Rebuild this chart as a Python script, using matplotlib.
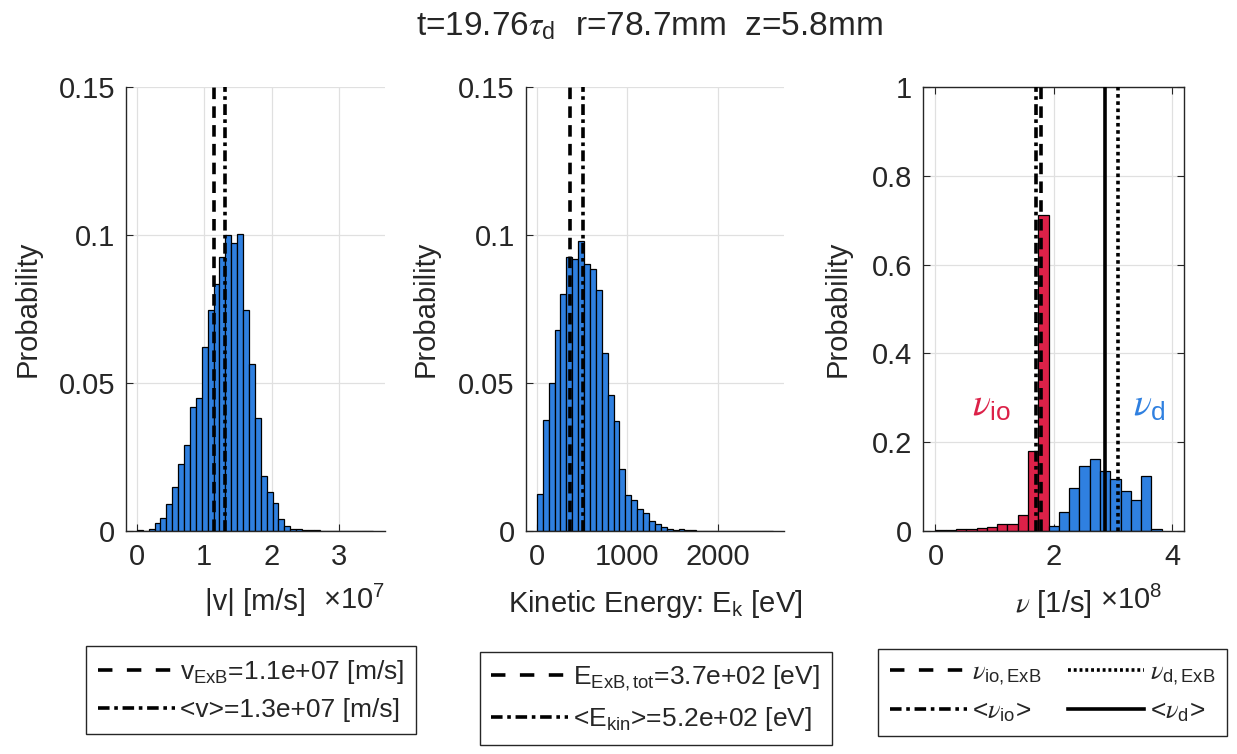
import numpy as np
import matplotlib
matplotlib.use("Agg")
import matplotlib.pyplot as plt
from matplotlib.lines import Line2D
from matplotlib.ticker import FuncFormatter

plt.rcParams["font.family"] = ["Liberation Sans", "DejaVu Sans"]
plt.rcParams["mathtext.fontset"] = "custom"
plt.rcParams["mathtext.rm"] = "Liberation Sans"
plt.rcParams["mathtext.it"] = "STIXGeneral:italic"
plt.rcParams["mathtext.bf"] = "Liberation Sans:bold"

# ---- data ----
# speed histogram |v| (m/s), 40 bins starting at 0
v_start, v_width = 0.0, 0.0875e7
v_prob = [0.0002, 0.0, 0.0008, 0.0028, 0.0045, 0.009, 0.0147, 0.0225, 0.029, 0.042,
          0.045, 0.062, 0.0747, 0.0834, 0.0927, 0.100, 0.0972, 0.1003, 0.0747, 0.0565,
          0.038, 0.0184, 0.0133, 0.0093, 0.0042, 0.0017, 0.0008, 0.0005, 0.0003, 0.0002,
          0.0002, 0.0001, 0.0001, 0.0001, 0.0001, 0.0001, 0.0, 0.0001, 0.0001, 0.0001]
v_exb, v_mean = 1.14e7, 1.30e7

# kinetic energy histogram (eV)
e_start, e_width = 0.0, 65.2
e_prob = [0.0126, 0.0374, 0.050, 0.068, 0.0802, 0.0927, 0.092, 0.0979, 0.0902, 0.0886,
          0.0815, 0.060, 0.046, 0.0372, 0.0211, 0.012, 0.0106, 0.0073, 0.0061, 0.0034,
          0.0023, 0.0014, 0.0007, 0.0003, 0.0005, 0.0002, 0.0002, 0.0001, 0.0001, 0.0001,
          0.0001, 0.0001, 0.0001, 0.0001, 0.0, 0.0001, 0.0001, 0.0, 0.0001, 0.0001]
e_exb, e_mean = 368, 512

# collision frequencies (1/s)
nu_width = 0.1737e8
nu_io_start = 0.0
nu_io_prob = [0.003, 0.002, 0.004, 0.005, 0.0075, 0.01, 0.0165, 0.016, 0.036, 0.181, 0.711]
nu_d_start = 11 * nu_width
nu_d_prob = [0.012, 0.043, 0.096, 0.146, 0.161, 0.135, 0.116, 0.089, 0.069, 0.123, 0.005]
nu_io_exb, nu_io_mean = 1.78e8, 1.70e8
nu_d_exb, nu_d_mean = 3.08e8, 2.87e8

BLUE = "#2f80e0"
RED = "#dc2148"
DARK = "#262626"
FS = 21


def edges(start, width, n):
    return start + width * np.arange(n + 1)


def hist_bars(ax, start, width, prob, color):
    e = edges(start, width, len(prob))
    ax.bar(e[:-1], prob, width=np.diff(e), align="edge", color=color,
           edgecolor="black", linewidth=0.9, zorder=2)


def style_axes(ax, label_x, box=False):
    ax.grid(True, color="#e0e0e0", linewidth=0.9, zorder=0)
    ax.set_axisbelow(True)
    for s in ("top", "right"):
        ax.spines[s].set_visible(box)
    for s in ax.spines.values():
        s.set_color(DARK)
        s.set_linewidth(1.0)
    ax.tick_params(direction="in", length=5, labelsize=FS, colors=DARK,
                   top=box, right=box)
    ax.tick_params(axis="x", pad=9)
    ax.tick_params(axis="y", pad=8)
    ax.set_ylabel("Probability", fontsize=FS, color=DARK)
    ax.yaxis.set_label_coords(label_x, 0.5)


dash = (0, (3.2, 2.0))
dashdot = (0, (3.0, 1.2, 1.0, 1.2))
dot = (0, (1.0, 1.0))
LW = 2.6

fig = plt.figure(figsize=(12.37, 7.54), dpi=100)

# panel 1: speed
ax1 = fig.add_axes([0.1019, 0.2958, 0.2094, 0.5889])
hist_bars(ax1, v_start, v_width, v_prob, BLUE)
ax1.axvline(v_exb, color="black", linestyle=dash, linewidth=LW, zorder=3)
ax1.axvline(v_mean, color="black", linestyle=dashdot, linewidth=LW, zorder=3)
ax1.set_xlim(-0.16e7, 3.68e7)
ax1.set_ylim(0, 0.15)
ax1.set_xticks([0, 1e7, 2e7, 3e7])
ax1.xaxis.set_major_formatter(FuncFormatter(lambda x, _: f"{x / 1e7:g}"))
ax1.set_yticks([0, 0.05, 0.1, 0.15])
ax1.set_yticklabels(["0", "0.05", "0.1", "0.15"])
style_axes(ax1, -0.325)
ax1.set_xlabel("|v| [m/s]", fontsize=FS, color=DARK, labelpad=12)
ax1.text(1.0, -0.158, r"$\times$10$^{7}$", transform=ax1.transAxes, ha="right",
         va="center", fontsize=FS, color=DARK)

# panel 2: kinetic energy
ax2 = fig.add_axes([0.4252, 0.2958, 0.2086, 0.5889])
hist_bars(ax2, e_start, e_width, e_prob, BLUE)
ax2.axvline(e_exb, color="black", linestyle=dash, linewidth=LW, zorder=3)
ax2.axvline(e_mean, color="black", linestyle=dashdot, linewidth=LW, zorder=3)
ax2.set_xlim(-120, 2730)
ax2.set_ylim(0, 0.15)
ax2.set_xticks([0, 1000, 2000])
ax2.set_yticks([0, 0.05, 0.1, 0.15])
ax2.set_yticklabels(["0", "0.05", "0.1", "0.15"])
style_axes(ax2, -0.335)
ax2.set_xlabel(r"Kinetic Energy: $\mathrm{E_k}$ [eV]", fontsize=FS, color=DARK, labelpad=12)

# panel 3: frequencies
ax3 = fig.add_axes([0.7462, 0.2958, 0.2110, 0.5889])
hist_bars(ax3, nu_io_start, nu_width, nu_io_prob, RED)
hist_bars(ax3, nu_d_start, nu_width, nu_d_prob, BLUE)
ax3.axvline(nu_io_exb, color="black", linestyle=dash, linewidth=LW, zorder=3)
ax3.axvline(nu_io_mean, color="black", linestyle=dashdot, linewidth=LW, zorder=3)
ax3.axvline(nu_d_mean, color="black", linestyle="-", linewidth=LW, zorder=3)
ax3.axvline(nu_d_exb, color="black", linestyle=dot, linewidth=LW, zorder=3)
ax3.set_xlim(-0.21e8, 4.2e8)
ax3.set_ylim(0, 1)
ax3.set_xticks([0, 2e8, 4e8])
ax3.xaxis.set_major_formatter(FuncFormatter(lambda x, _: f"{x / 1e8:g}"))
ax3.set_yticks([0, 0.2, 0.4, 0.6, 0.8, 1])
ax3.set_yticklabels(["0", "0.2", "0.4", "0.6", "0.8", "1"])
style_axes(ax3, -0.275, box=True)
ax3.set_xlabel(r"$\nu$ [1/s]", fontsize=FS, color=DARK, labelpad=12)
ax3.text(0.916, -0.158, r"$\times$10$^{8}$", transform=ax3.transAxes, ha="right",
         va="center", fontsize=FS, color=DARK)
ax3.text(0.62e8, 0.26, r"$\nu_{\mathrm{io}}$", color=RED, fontsize=27, ha="left", va="baseline")
ax3.text(3.33e8, 0.26, r"$\nu_{\mathrm{d}}$", color=BLUE, fontsize=27, ha="left", va="baseline")

fig.text(0.525, 0.965, r"t=19.76$\tau_{\mathrm{d}}$  r=78.7mm  z=5.8mm",
         ha="center", va="center", fontsize=24, color=DARK)

# legends
leg_kw = dict(loc="center", fontsize=19, frameon=True, fancybox=False, framealpha=1,
              edgecolor=DARK, handlelength=2.9, handletextpad=0.2, borderpad=0.45,
              labelspacing=0.45, borderaxespad=0)

leg_dash = (0, (4.0, 4.0))
leg_dashdot = (0, (3.2, 1.3, 1.0, 1.3))
leg_dot = (0, (0.8, 0.8))


def line(ls):
    return Line2D([], [], color="black", linestyle=ls, linewidth=LW)


lg1 = fig.legend([line(leg_dash), line(leg_dashdot)],
                 [r"$\mathrm{v_{ExB}}$=1.1e+07 [m/s]", "<v>=1.3e+07 [m/s]"],
                 bbox_to_anchor=(0.203, 0.085), **leg_kw)
lg2 = fig.legend([line(leg_dash), line(leg_dashdot)],
                 [r"$\mathrm{E_{ExB,tot}}$=3.7e+02 [eV]", r"<$\mathrm{E_{kin}}$>=5.2e+02 [eV]"],
                 bbox_to_anchor=(0.530, 0.074), **leg_kw)
lg3 = fig.legend([line(leg_dash), line(leg_dashdot), line(leg_dot), line("-")],
                 [r"$\nu_{\mathrm{io,ExB}}$", r"<$\nu_{\mathrm{io}}$>",
                  r"$\nu_{\mathrm{d,ExB}}$", r"<$\nu_{\mathrm{d}}$>"],
                 bbox_to_anchor=(0.851, 0.082), ncol=2, columnspacing=1.0, **leg_kw)
for lg in (lg1, lg2, lg3):
    lg.get_frame().set_linewidth(1.0)
    for t in lg.get_texts():
        t.set_color(DARK)

fig.savefig("out.png", dpi=100)
